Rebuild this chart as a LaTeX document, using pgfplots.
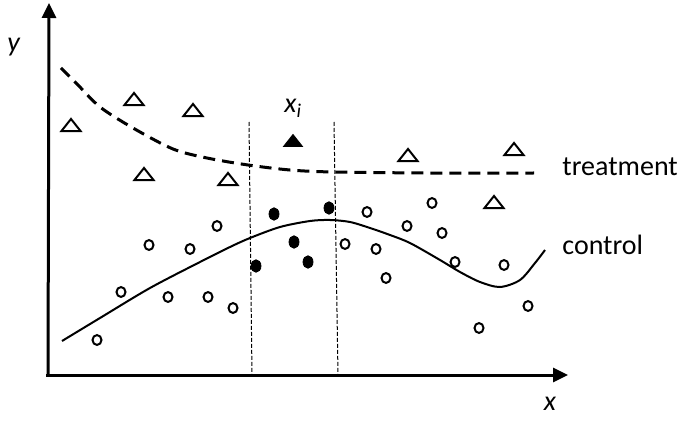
\documentclass[border=0pt]{standalone}
\usepackage{pgfplots}
\pgfplotsset{compat=1.18}
\usetikzlibrary{arrows.meta}
\usepackage{fontspec}
\setmainfont{Carlito}
\begin{document}
\begin{tikzpicture}[lbl/.style={inner sep=0pt, font=\fontsize{14}{16}\selectfont}]
\begin{axis}[
    width=347pt, height=211.5pt,
    scale only axis,
    xmin=0, xmax=694, ymin=0, ymax=423,
    hide axis,
    clip=false,
]
% frame of the picture (keeps the bounding box)
\addplot[draw=none] coordinates {(0,0) (694,423)};
% axes
\addplot[line width=1.5pt, -{Triangle[width=7pt,length=7.5pt]}] coordinates {(48,48) (49,420)};
\addplot[line width=1.5pt, -{Triangle[width=7pt,length=7.5pt]}] coordinates {(46,48) (568,48)};
% window around x_i
\addplot[line width=0.5pt, dash pattern=on 2pt off 1pt] coordinates {(249,301) (252,48)};
\addplot[line width=0.5pt, dash pattern=on 2pt off 1pt] coordinates {(334,301) (338,48)};
% treatment curve
\addplot[line width=1.5pt, dash pattern=on 6pt off 3.5pt, smooth] coordinates {
    (61,355) (78,338) (100,316) (133,295) (173,274) (207,265) (248,258) (290,253) (333,251) (430,250) (534,250)};
% control curve
\addplot[line width=1pt, smooth] coordinates {
    (62,82) (100,105) (150,135) (200,161) (230,176) (250,185) (280,196) (310,202) (330,203)
    (350,201) (370,195) (390,188) (410,180) (440,163) (460,151) (480,141) (500,136)
    (520,143) (535,160) (545,173)};
% control points
\addplot[only marks, mark=o, mark size=2.25pt, mark options={line width=1pt, yscale=1.1}] coordinates {
    (97,83) (121,131) (149,178) (168,126) (190,174) (208,126) (217,197) (233,115)
    (345,179) (367,211) (376,174) (386,145) (407,197) (432,220) (442,190) (455,161)
    (504,158) (528,117) (479,95)};
\addplot[only marks, mark=*, mark size=2.5pt, mark options={fill=black, yscale=1.25}] coordinates {
    (256,157) (274,209) (294,181) (308,161) (329,215)};
% treatment points
\addplot[only marks, mark=triangle, mark size=5.5pt, mark options={line width=1pt, yscale=0.73}] coordinates {
    (71,296) (134,322) (193,311) (144,247) (228,242) (408,266) (514,272) (494,219)};
\addplot[only marks, mark=triangle*, mark size=5.5pt, mark options={fill=black, yscale=0.73}] coordinates {
    (293,280.5)};
% labels
\node[lbl, anchor=base west] at (axis cs:562,247) {treatment};
\node[lbl, anchor=base west] at (axis cs:562,169) {control};
\node[lbl, anchor=base] at (axis cs:550,13) {\textit{x}};
\node[lbl, anchor=base] at (axis cs:14,371) {\textit{y}};
\node[lbl, anchor=base west] at (axis cs:284,310) {\textit{x}\textsubscript{\textit{i}}};
\end{axis}
\end{tikzpicture}
\end{document}
